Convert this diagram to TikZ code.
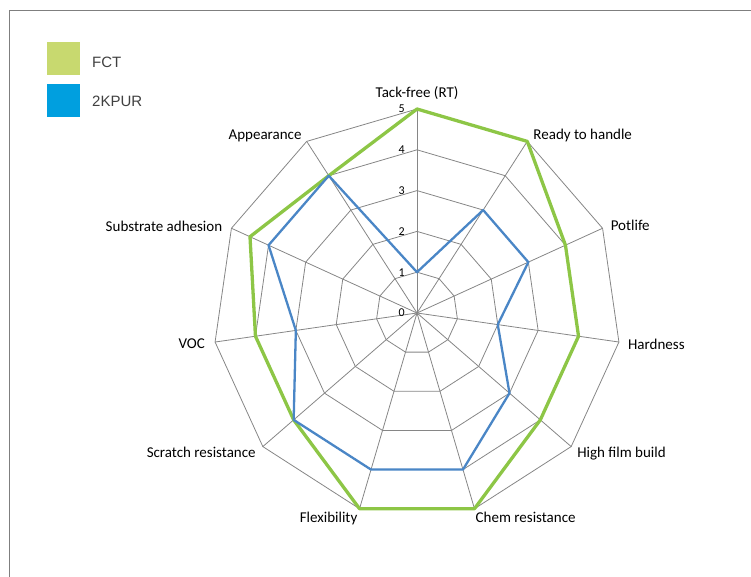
\documentclass[tikz,border=0pt]{standalone}
\usepackage{fontspec}
\setmainfont{Carlito}
\newfontfamily\legfont{Liberation Sans}
\usetikzlibrary{positioning,calc}
\definecolor{webgray}{HTML}{868686}
\definecolor{framegray}{HTML}{7F7F7F}
\definecolor{fctgreen}{HTML}{8DC646}
\definecolor{purblue}{HTML}{4A86C6}
\definecolor{fctkey}{HTML}{C8D96F}
\definecolor{purkey}{HTML}{009FDF}
\tikzset{
  web/.style     = {draw=webgray, line width=0.8pt},
  frameline/.style = {draw=framegray, line width=1pt},
  fctline/.style = {draw=fctgreen, line width=3.3pt, line join=round},
  purline/.style = {draw=purblue, line width=2.3pt, line join=round},
  axlbl/.style   = {font=\fontsize{15}{17}\selectfont, inner sep=0pt},
  ticklbl/.style = {font=\fontsize{12}{13}\selectfont, inner sep=0pt, anchor=east},
  keybox/.style  = {minimum size=33pt, inner sep=0pt},
  keylbl/.style  = {font=\legfont\fontsize{15}{17}\selectfont, text=black!75,
                    anchor=west, inner sep=0pt},
}

\begin{document}
\begin{tikzpicture}[x=40.8pt, y=40.8pt]
  \useasboundingbox (-417pt,-264pt) rectangle (334pt,313pt);
  \draw[frameline] (-407.5pt,-264pt) -- (-407.5pt,302.5pt) -- (334pt,302.5pt);
  % legend
  \node[keybox, fill=fctkey] (kfct) at (-353.5pt,254.5pt) {};
  \node[keybox, fill=purkey] (kpur) at (-353.5pt,212.5pt) {};
  \node[keylbl] (tfct) at (-325pt,251pt) {FCT};
  \node[keylbl] (tpur) at (-325pt,211.5pt) {2KPUR};
  % web
  \foreach \r in {1,...,5}
    \draw[web] (90:\r) \foreach \k in {1,...,10} { -- (90-\k*360/11:\r) } -- cycle;
  \foreach \k in {0,...,10} {
    \coordinate (o\k) at (90-\k*360/11:5);
    \draw[web] (0,0) -- (o\k);
  }
  \foreach \r in {0,...,5}
    \node[ticklbl, xshift=-12pt] (t\r) at (0,\r) {\r};
  % series
  \foreach \v [count=\k from 0] in {5,5,4,4,4,5,5,4,4,4.5,4}
    \coordinate (f\k) at (90-\k*360/11:\v);
  \foreach \v [count=\k from 0] in {1,3,3,2,3,4,4,4,3,4,4}
    \coordinate (p\k) at (90-\k*360/11:\v);
  \draw[fctline] (f0) -- (f1) -- (f2) -- (f3) -- (f4) -- (f5) -- (f6) -- (f7)
    -- (f8) -- (f9) -- (f10) -- cycle;
  \draw[purline] (p0) -- (p1) -- (p2) -- (p3) -- (p4) -- (p5) -- (p6) -- (p7)
    -- (p8) -- (p9) -- (p10) -- cycle;
  % axis labels
  \node[axlbl, anchor=base] (l0) at ($(o0)+(0pt,11.5pt)$) {Tack-free (RT)};
  \node[axlbl, anchor=base west] (l1) at ($(o1)+(6pt,1.5pt)$) {Ready to handle};
  \node[axlbl, anchor=base west] (l2) at ($(o2)+(8pt,-2pt)$) {Potlife};
  \node[axlbl, anchor=base west] (l3) at ($(o3)+(9pt,-7pt)$) {Hardness};
  \node[axlbl, anchor=base west] (l4) at ($(o4)+(6pt,-11pt)$) {High film build};
  \node[axlbl, anchor=base west] (l5) at ($(o5)+(1pt,-14pt)$) {Chem resistance};
  \node[axlbl, anchor=base east] (l6) at ($(o6)+(-2pt,-14pt)$) {Flexibility};
  \node[axlbl, anchor=base east] (l7) at ($(o7)+(-7pt,-11pt)$) {Scratch resistance};
  \node[axlbl, anchor=base east] (l8) at ($(o8)+(-10pt,-6pt)$) {VOC};
  \node[axlbl, anchor=base east] (l9) at ($(o9)+(-9pt,-3pt)$) {Substrate adhesion};
  \node[axlbl, anchor=base east] (l10) at ($(o10)+(-5pt,2pt)$) {Appearance};
\end{tikzpicture}
\end{document}
